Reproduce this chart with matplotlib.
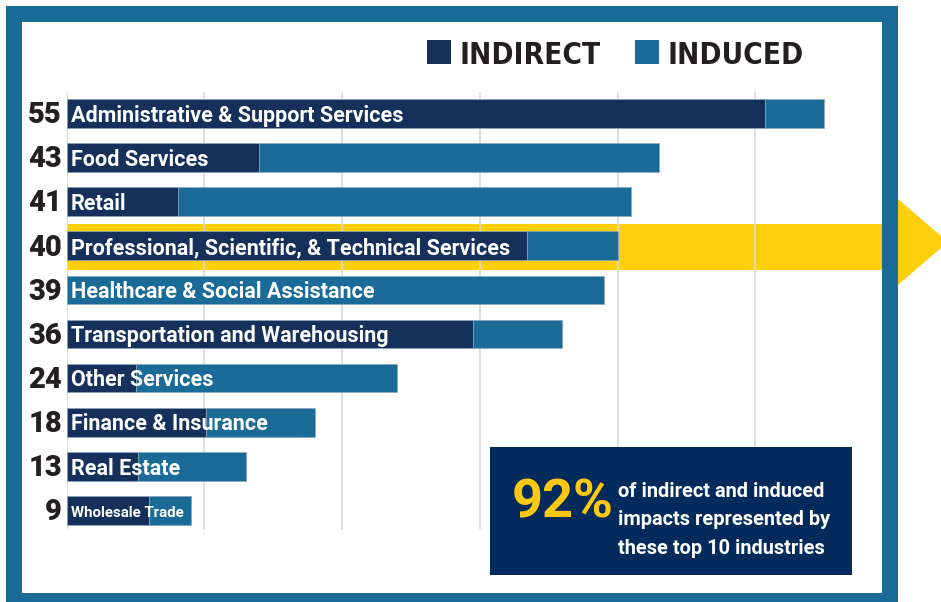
import matplotlib
matplotlib.use('Agg')
import matplotlib.pyplot as plt
from matplotlib.patches import Rectangle, Polygon

# Top 10 industries by indirect + induced impact
industries = ['Administrative & Support Services', 'Food Services', 'Retail',
              'Professional, Scientific, & Technical Services',
              'Healthcare & Social Assistance', 'Transportation and Warehousing',
              'Other Services', 'Finance & Insurance', 'Real Estate', 'Wholesale Trade']
totals = [55, 43, 41, 40, 39, 36, 24, 18, 13, 9]
indirect = [50.7, 14.0, 8.1, 33.4, 0.0, 29.5, 5.0, 10.1, 5.2, 6.0]
induced = [4.3, 29.0, 32.9, 6.6, 39.0, 6.5, 19.0, 7.9, 7.8, 3.0]
highlight = 'Professional, Scientific, & Technical Services'
share_text = '92%'
share_caption = ['of indirect and induced', 'impacts represented by', 'these top 10 industries']

NAVY = '#15315b'
TEAL = '#1a6b97'
YELLOW = '#fdcf0d'
BOX = '#022b5c'
INK = '#231f20'

W, H = 941, 602
fig = plt.figure(figsize=(W / 100, H / 100), dpi=100)
fig.patch.set_facecolor('white')


def box(x0, y0, x1, y1):
    # pixel box (top-left origin) -> figure fraction [l, b, w, h]
    return [x0 / W, 1 - y1 / H, (x1 - x0) / W, (y1 - y0) / H]


def fx(x):
    return x / W


def fy(y):
    return 1 - y / H


# bar area: zero at x=66.7 px, 13.77 px per unit
ax = fig.add_axes(box(66.7, 92, 882, 530))
ax.set_xlim(0, (882 - 66.7) / 13.77)
ax.set_ylim(9.444, -0.4875)
ax.set_facecolor('none')
for s in ax.spines.values():
    s.set_visible(False)
ax.set_xticks(range(0, 60, 10))
ax.set_yticks([])
ax.tick_params(axis='x', length=0, labelbottom=False)
ax.set_axisbelow(True)
ax.grid(axis='x', color='#d9d9d9', linewidth=1.2)

ypos = list(range(len(industries)))
hi = industries.index(highlight)
ax.axhspan(hi - 0.5, hi + 0.55, color=YELLOW, zorder=0.2, lw=0)

ax.barh(ypos, indirect, height=0.65, color=NAVY, edgecolor='#8aa5bd', linewidth=0.5, zorder=2)
ax.barh(ypos, induced, left=indirect, height=0.65, color=TEAL, edgecolor='#8aa5bd',
        linewidth=0.5, zorder=2)

for i, (name, tot) in enumerate(zip(industries, totals)):
    small = name == 'Wholesale Trade'
    ax.text(0.31, i + (0.14 if small else 0.186), name, color='white', fontsize=10.8 if small else 15.5,
            fontweight='bold', family='Roboto', va='baseline', ha='left', zorder=3)
    ax.text(-0.34, i + 0.222, str(tot), color=INK, fontsize=21, fontweight='heavy',
            family='Roboto', va='baseline', ha='right', clip_on=False)

# arrow head past the frame
fig.patches.append(Polygon([(fx(882), fy(224)), (fx(898), fy(224)), (fx(898), fy(199)),
                            (fx(948), fy(242)), (fx(898), fy(285)), (fx(898), fy(270)),
                            (fx(882), fy(270))], closed=True, transform=fig.transFigure,
                           facecolor=YELLOW, edgecolor='none', zorder=1))

# frame
for b in [(6, 6, 898, 22), (6, 6, 22, 602), (882, 6, 898, 602), (6, 593, 898, 602)]:
    l, bt, w, h = box(*b)
    fig.patches.append(Rectangle((l, bt), w, h, transform=fig.transFigure,
                                 facecolor=TEAL, edgecolor='none', zorder=2))

# legend
for (x0, x1), label, col in [((427, 451), 'INDIRECT', NAVY), ((635, 659), 'INDUCED', TEAL)]:
    l, bt, w, h = box(x0, 40, x1, 64)
    fig.patches.append(Rectangle((l, bt), w, h, transform=fig.transFigure,
                                 facecolor=col, edgecolor='none', zorder=2))
    fig.text(fx(x1 + 8.5), fy(64), label, color=INK, fontsize=21.3, fontweight='bold',
             family='DejaVu Sans', fontstretch='condensed', va='baseline', ha='left')

# callout box
l, bt, w, h = box(490, 447, 852, 575)
fig.patches.append(Rectangle((l, bt), w, h, transform=fig.transFigure,
                             facecolor=BOX, edgecolor='none', zorder=2))
fig.text(fx(512), fy(518), share_text, color='#fcc812', fontsize=39, fontweight='bold',
         family='Roboto', va='baseline', ha='left', zorder=3)
for k, line in enumerate(share_caption):
    fig.text(fx(618), fy(496.7 + 28.6 * k), line, color='white', fontsize=14.4, fontweight='bold',
             family='Roboto', va='baseline', ha='left', zorder=3)

fig.savefig('out.png', dpi=100)
